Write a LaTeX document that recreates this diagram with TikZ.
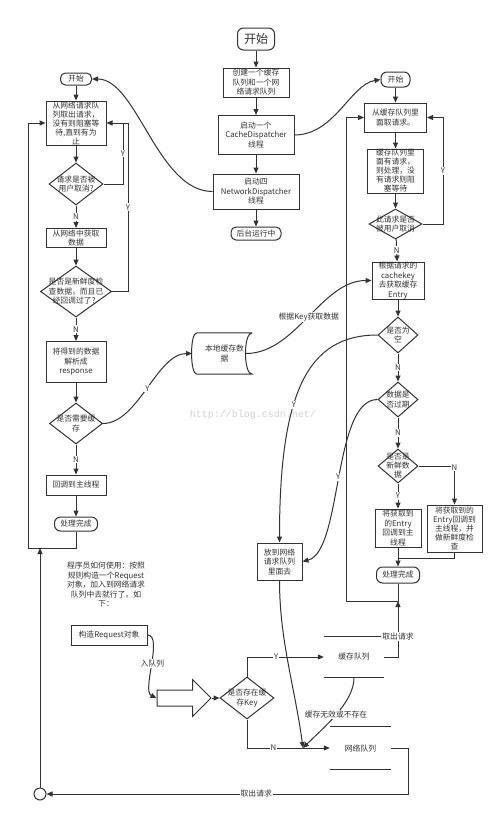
\documentclass[tikz,border=0pt]{standalone}
\usepackage{fontspec}
\setmainfont{Noto Sans CJK SC}
\newfontfamily\wmfont{Liberation Mono}
\usepackage{tikz}
\usetikzlibrary{arrows.meta,shapes.geometric,shapes.arrows}
\definecolor{ink}{HTML}{333333}

\begin{document}
\begin{tikzpicture}[x=1pt, y=-1pt, font=\fontsize{7.8}{9.5}\selectfont, text=ink,
  every node/.append style={align=center},
  box/.style={draw=ink, line width=1pt, fill=white, inner sep=0pt},
  term/.style={box, rounded corners=6pt},
  decision/.style={diamond, draw=ink, line width=1pt, fill=white, inner sep=0pt},
  line/.style={draw=ink, line width=1pt},
  arr/.style={line, -{Triangle[length=6pt,width=5pt]}},
  lbl/.style={fill=white, inner sep=1pt},
  queue/.style={minimum width=60pt, minimum height=41pt, inner sep=0pt},
  tight/.style={font=\fontsize{7.8}{9}\selectfont}]
\fill[white] (0,0) rectangle (500,819);
\useasboundingbox (0,0) rectangle (500,819);
\node[text=gray!35, font=\wmfont\fontsize{10}{10}\selectfont] (mark) at (253,415) {http://blog.csdn.net/};

% Startup
\node[term, minimum width=37pt, minimum height=22pt, font=\fontsize{12}{14}\selectfont] (start) at (256,39) {开始};
\node[box, minimum width=66pt, minimum height=29pt] (queues) at (256,82.5) {创建一个缓存\\队列和一个网\\络请求队列};
\node[box, minimum width=76pt, minimum height=39pt] (cachethr) at (256,135) {启动一个\\CacheDispatcher\\线程};
\node[box, minimum width=86pt, minimum height=35pt] (netthr) at (256,191.5) {启动四\\NetworkDispatcher\\线程};
\node[term, minimum width=50pt, minimum height=13pt, rounded corners=5pt] (running) at (256,233.5) {后台运行中};
\draw[arr] (start) -- (queues);
\draw[arr] (queues) -- (cachethr);
\draw[arr] (cachethr) -- (netthr);
\draw[arr] (netthr) -- (running);

% NetworkDispatcher
\node[term, minimum width=31pt, minimum height=12pt, rounded corners=5pt] (start-l) at (76,79) {开始};
\node[box, tight, minimum width=60pt, minimum height=44pt] (take-l) at (76,123) {从网络请求队\\列取出请求，\\没有则阻塞等\\待,直到有为\\止};
\node[decision, minimum width=54pt, minimum height=42pt, label={center:请求是否被\\用户取消?}] (cancel-l) at (76,184) {};
\node[box, minimum width=60pt, minimum height=19pt] (fetchnet) at (76,238) {从网络中获取\\数据};
\node[decision, minimum width=71pt, minimum height=51pt, label={center:是否是新鲜度检\\查数据，而且已\\经回调过了？}] (fresh-l) at (76,291.5) {};
\node[box, minimum width=60pt, minimum height=41pt] (parse) at (76,362) {将得到的数据\\解析成\\response};
\node[decision, minimum width=53pt, minimum height=41pt, label={center:是否需要缓\\存}] (needcache) at (76,423.5) {};
\node[box, minimum width=60pt, minimum height=20pt] (mainthr-l) at (76,485) {回调到主线程};
\node[term, minimum width=43pt, minimum height=14pt] (done-l) at (76,524) {处理完成};
\draw[arr] (netthr.west) .. controls +(-55,0) and +(45,0) .. (start-l.east);
\draw[arr] (start-l) -- (take-l);
\draw[arr] (take-l) -- (cancel-l);
\draw[arr] (cancel-l) -- node[lbl]{N} (fetchnet);
\draw[arr] (fetchnet) -- (fresh-l);
\draw[arr] (fresh-l) -- node[lbl]{N} (parse);
\draw[arr] (parse) -- (needcache);
\draw[arr] (needcache) -- node[lbl]{N} (mainthr-l);
\draw[arr] (mainthr-l) -- (done-l);
\coordinate (ly1) at (123,123);
\coordinate (ly2) at (128,123);
\draw[line] (cancel-l.east) -| node[pos=.75, lbl]{Y} (ly1);
\draw[arr] (fresh-l.east) -| node[pos=.75, lbl]{Y} (ly2) -- (take-l.east);
\coordinate (lloop) at (28,548);
\draw[arr] (done-l.south) |- (lloop) |- (take-l.west);

% local cache
\node[minimum width=55pt, minimum height=41pt, inner sep=0pt] (store) at (224.5,353.5) {本地缓存数\\据};
\draw[line] (store.north east) -- (store.north west) .. controls +(-7,0) and +(-7,0) .. (store.south west)
  -- (store.south east) .. controls +(-9,0) and +(-9,0) .. (store.north east);
\coordinate (store-in) at (192,353.5);
\coordinate (store-out) at (246,353.5);
\draw[arr] (needcache.east) .. controls +(35,0) and +(-35,0) .. node[lbl]{Y} (store-in);

% CacheDispatcher
\node[term, minimum width=29pt, minimum height=15pt] (start-r) at (395.5,79.5) {开始};
\node[box, minimum width=62pt, minimum height=29pt] (take-r) at (395.5,117.5) {从缓存队列里\\面取请求。};
\node[box, tight, minimum width=56pt, minimum height=44pt] (wait-r) at (395.5,171) {缓存队列里\\面有请求，\\则处理，没\\有请求则阻\\塞等待};
\node[decision, minimum width=53pt, minimum height=30pt, label={center:此请求是否\\被用户取消}] (cancel-r) at (395.5,224) {};
\node[box, minimum width=52pt, minimum height=37pt] (cachekey) at (398,280.5) {根据请求的\\cachekey\\去获取缓存\\Entry};
\node[decision, minimum width=40pt, minimum height=36pt, label={center:是否为\\空}] (isnull) at (398,335) {};
\node[decision, minimum width=40pt, minimum height=35pt, label={center:数据是\\否过期}] (expired) at (398,399.5) {};
\node[decision, minimum width=40pt, minimum height=34pt, label={[tight]center:是否是\\新鲜数\\据}] (fresh-r) at (398,466) {};
\node[box, minimum width=46pt, minimum height=38pt] (cb) at (398,528) {将获取到\\的Entry\\回调到主\\线程};
\node[box, tight, minimum width=55pt, minimum height=47pt] (check) at (454.5,528.5) {将获取到的\\Entry回调到\\主线程，并\\做新鲜度检\\查};
\node[term, minimum width=43pt, minimum height=16pt] (done-r) at (398,575) {处理完成};
\draw[arr] (cachethr.east) .. controls +(40,0) and +(-30,5) .. (start-r.west);
\draw[arr] (start-r) -- (take-r);
\draw[arr] (take-r) -- (wait-r);
\draw[arr] (wait-r) -- (cancel-r);
\draw[arr] (cancel-r) -- node[lbl]{N} (cachekey);
\draw[arr] (cachekey) -- (isnull);
\draw[arr] (isnull) -- node[lbl]{N} (expired);
\draw[arr] (expired) -- node[lbl]{N} (fresh-r);
\draw[arr] (fresh-r) -- node[lbl]{Y} (cb);
\draw[arr] (fresh-r.east) -| node[pos=.52, lbl]{N} (check.north);
\coordinate (rmerge) at (398,558);
\draw[line] (check.south) |- (rmerge);
\draw[arr] (cb) -- (done-r);
\coordinate (ry) at (443,117.5);
\draw[arr] (cancel-r.east) -| node[pos=.75, lbl]{Y} (ry) -- (take-r.east);
\coordinate (rloop) at (346,601);
\draw[arr] (done-r.south) |- (rloop) |- (take-r.west);
\draw[arr] (store-out) .. controls +(50,0) and +(-50,0) .. node[lbl]{根据Key获取数据} (cachekey.west);

% put into network queue
\node[box, minimum width=45pt, minimum height=37pt] (putnet) at (279.5,561.5) {放到网络\\请求队列\\里面去};
\draw[arr] (isnull.west) .. controls +(-70,0) and +(0,-150) .. node[pos=.6, lbl]{Y} (putnet.north);
\draw[arr] (expired.west) .. controls +(-45,0) and +(40,-10) .. node[lbl]{Y} (putnet.east);

% usage
\node (howto) at (106,585) {程序员如何使用：按照\\规则构造一个Request\\对象，加入到网络请求\\队列中去就行了。如\\下：};
\node[box, minimum width=76pt, minimum height=20pt] (req) at (109,635) {构造Request对象};
\node[single arrow, draw=ink, line width=1pt, fill=white, minimum height=54pt, inner sep=7.5pt,
  single arrow head extend=10.5pt] (enq) at (180,698) {};
\node[decision, minimum width=54pt, minimum height=42pt, label={center:是否存在缓\\存Key}] (key) at (247,698) {};
\node[queue] (cacheq) at (354,657) {缓存队列};
\node[queue, minimum width=61pt, minimum height=42pt] (netq) at (360.5,748) {网络队列};
\draw[line] (cacheq.north west) -- (cacheq.north east) (cacheq.south west) -- (cacheq.south east);
\draw[line] (netq.north west) -- (netq.north east) (netq.south west) -- (netq.south east);
\node[circle, draw=ink, line width=1pt, fill=white, minimum size=12pt, inner sep=0pt] (circ) at (40,794) {};
\draw[arr] (req.east) .. controls +(16,0) and +(-15,-7) .. node[lbl]{入队列} (enq.tail);
\draw[arr] (enq.tip) -- (key.west);
\draw[arr] (key.north) |- node[pos=.69, lbl]{Y} (cacheq.west);
\draw[arr] (key.south) |- node[pos=.66, lbl]{N} (netq.west);
\coordinate (merge) at (303,748);
\draw[arr] (putnet.south) .. controls +(0,60) and +(-8,-60) .. (merge);
\draw[arr] (cacheq.south) .. controls +(0,25) and +(20,-20) .. node[lbl]{缓存无效或不存在} (merge);
\coordinate (rjoin) at (398,601);
\draw[arr] (cacheq.east) -| node[pos=.68, lbl]{取出请求} (rjoin);
\draw[arr] (netq.east) -- ++(17,0) |- node[pos=.71, lbl]{取出请求} (circ.east);
\coordinate (ljoin) at (40,548);
\draw[arr] (circ.north) -- (ljoin);
\end{tikzpicture}
\end{document}
